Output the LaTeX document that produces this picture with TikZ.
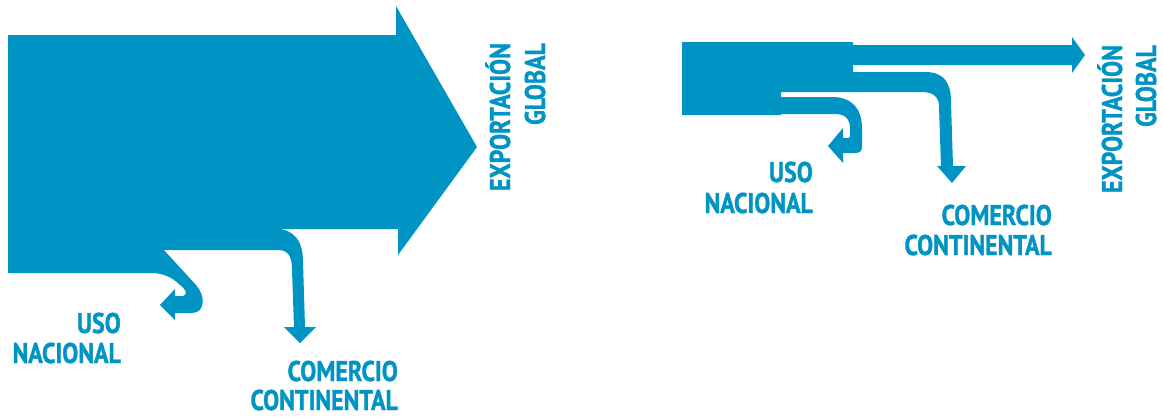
\documentclass[tikz,border=0pt]{standalone}
\usepackage{fontspec}
\setmainfont{PT Sans}[FakeStretch=0.84, BoldFeatures={FakeBold=1.2}]
\usepackage{tikz}
\usetikzlibrary{positioning,calc}
\definecolor{flowBlue}{RGB}{0,148,196}
\tikzset{
    flow/.style={
        fill=flowBlue,
        draw=none
    },
    flowlabel/.style={
        font=\bfseries\fontsize{28.5}{30}\selectfont,
        text=flowBlue,
        inner sep=0pt,
        anchor=base east
    }
}

\begin{document}
\begin{tikzpicture}[x=1pt, y=-1pt]
                \useasboundingbox (0,0) rectangle (1163,416);

                % Diagrama grande
                \fill[flow] (8,35) -- (396,35) -- (396,6) -- (477,147) -- (398,255) -- (398,229) -- (8,229) -- cycle;
                \fill[flow] (8,228) -- (270,228) .. controls (292,228) and (303,238) .. (303,262) -- (305,327) -- (316,327) -- (300,343) -- (284,327) -- (294,327) -- (292,270) .. controls (292,256) and (288,250) .. (278,250) -- (8,250) -- cycle;
                \fill[flow] (8,249) -- (163,249) -- (196,285) .. controls (206,296) and (205,313) .. (192,313) -- (175,313) -- (175,320) -- (160,305) -- (175,289) -- (175,296) -- (183,296) .. controls (188,295) and (186,289) .. (180,285) .. controls (172,277) and (163,273) .. (150,273) -- (8,273) -- cycle;

                \node[flowlabel] (usoA) at (121,333) {USO};
                \node[flowlabel] (nacA) at (121,363) {NACIONAL};
                \node[flowlabel] (comA) at (398,381) {COMERCIO};
                \node[flowlabel] (contA) at (398,410) {CONTINENTAL};
                \node[flowlabel, rotate=90] (expA) at (510,43) {EXPORTACIÓN};
                \node[flowlabel, rotate=90] (globA) at (545,43) {GLOBAL};

                % Diagrama pequeño
                \fill[flow] (682,42) -- (853,42) -- (853,92) -- (781,92) -- (781,115) -- (682,115) -- cycle;
                \fill[flow] (852,45) -- (1072,45) -- (1072,37) -- (1085,55) -- (1072,73) -- (1072,65) -- (852,65) -- cycle;
                \fill[flow] (852,72) -- (925,72) .. controls (945,72) and (951,84) .. (951,102) -- (953,166) -- (966,166) -- (952,183) -- (937,166) -- (941,166) -- (939,106) .. controls (939,97) and (933,92) .. (922,92) -- (852,92) -- cycle;
                \fill[flow] (780,97) -- (832,97) .. controls (853,97) and (862,110) .. (862,128) -- (862,147) .. controls (862,151) and (860,153) .. (855,153) -- (843,153) -- (843,163) -- (828,146) -- (843,128) -- (843,138) -- (848,138) .. controls (850,138) and (850,137) .. (850,134) -- (850,128) .. controls (850,119) and (845,114) .. (835,114) -- (780,114) -- cycle;

                \node[flowlabel] (usoB) at (813,182) {USO};
                \node[flowlabel] (nacB) at (813,213) {NACIONAL};
                \node[flowlabel] (comB) at (1052,225) {COMERCIO};
                \node[flowlabel] (contB) at (1052,255) {CONTINENTAL};
                \node[flowlabel, rotate=90] (expB) at (1122,45) {EXPORTACIÓN};
                \node[flowlabel, rotate=90] (globB) at (1156,45) {GLOBAL};
            \end{tikzpicture}
\end{document}
